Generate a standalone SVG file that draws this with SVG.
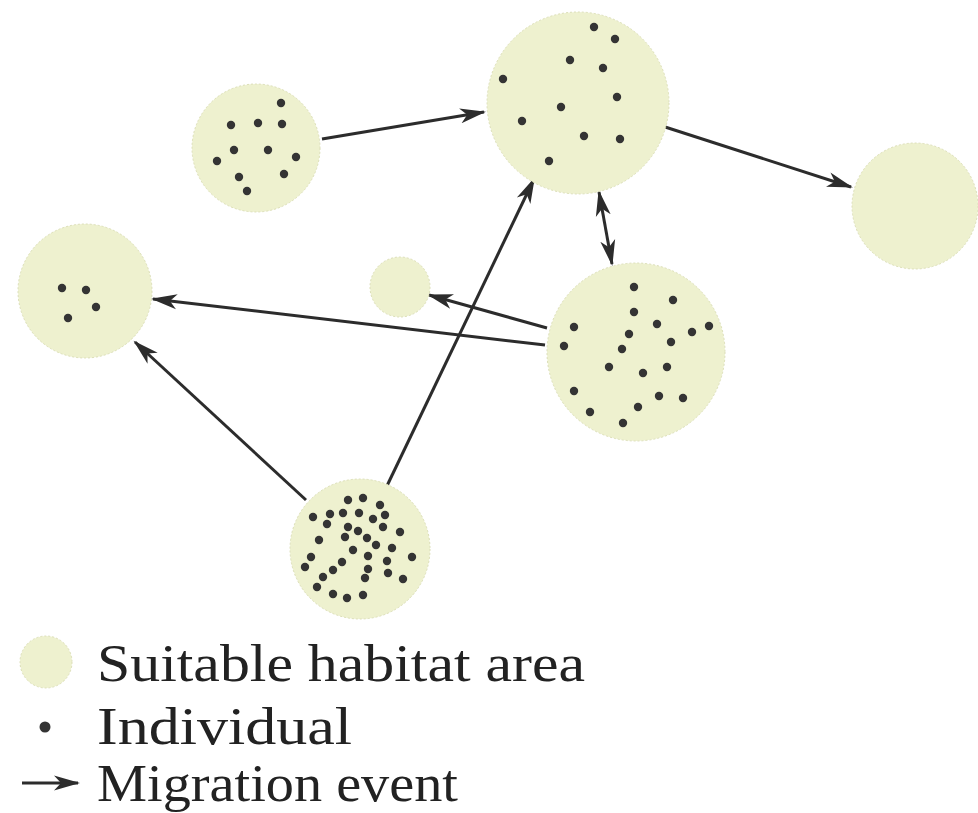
<svg xmlns="http://www.w3.org/2000/svg" width="978" height="813" viewBox="0 0 978 813">
<style>
.hab{fill:#eef1cf;stroke:#dcdfb8;stroke-width:1;stroke-dasharray:2 2}
.ind{fill:#343434}
.mig{fill:none;stroke:#2c2c2c;stroke-width:3;marker-end:url(#ah)}
.lbl{font-family:"Liberation Serif","Times New Roman",serif;font-size:53px;fill:#222}
</style>
<defs>
<marker id="ah" markerUnits="userSpaceOnUse" markerWidth="28" markerHeight="18" refX="24" refY="9" orient="auto-start-reverse" viewBox="0 0 28 18">
<path d="M0,1.5 L26,9 L0,16.5 L7,9 Z" fill="#2c2c2c"/>
</marker>
</defs>
<rect width="978" height="813" fill="#fff"/>
<g id="connectors">
<line class="mig" x1="322" y1="139" x2="484" y2="112"/>
<line class="mig" x1="662" y1="126" x2="851" y2="187"/>
<line class="mig" x1="599" y1="192" x2="612" y2="264" style="marker-start:url(#ah)"/>
<line class="mig" x1="547" y1="328" x2="429" y2="295"/>
<line class="mig" x1="545" y1="345" x2="153" y2="299"/>
<line class="mig" x1="306" y1="500" x2="135" y2="342"/>
<line class="mig" x1="385" y1="490" x2="534" y2="179"/>
</g>
<g id="patch-upper-left">
<circle class="hab" cx="256" cy="148" r="64"/>
<g class="ind"><circle cx="281" cy="103" r="4.2"/><circle cx="231" cy="125" r="4.2"/><circle cx="258" cy="123" r="4.2"/><circle cx="282" cy="124" r="4.2"/><circle cx="234" cy="150" r="4.2"/><circle cx="268" cy="150" r="4.2"/><circle cx="296" cy="157" r="4.2"/><circle cx="217" cy="161" r="4.2"/><circle cx="239" cy="177" r="4.2"/><circle cx="284" cy="174" r="4.2"/><circle cx="247" cy="191" r="4.2"/></g>
</g>
<g id="patch-top">
<circle class="hab" cx="578" cy="103" r="91"/>
<g class="ind"><circle cx="594" cy="27" r="4.2"/><circle cx="615" cy="39" r="4.2"/><circle cx="570" cy="60" r="4.2"/><circle cx="603" cy="68" r="4.2"/><circle cx="503" cy="79" r="4.2"/><circle cx="617" cy="97" r="4.2"/><circle cx="561" cy="107" r="4.2"/><circle cx="522" cy="121" r="4.2"/><circle cx="584" cy="136" r="4.2"/><circle cx="620" cy="139" r="4.2"/><circle cx="549" cy="161" r="4.2"/></g>
</g>
<g id="patch-right">
<circle class="hab" cx="915" cy="206" r="63"/>
</g>
<g id="patch-small">
<circle class="hab" cx="400" cy="287" r="30"/>
</g>
<g id="patch-left">
<circle class="hab" cx="85" cy="291" r="67"/>
<g class="ind"><circle cx="62" cy="288" r="4.2"/><circle cx="86" cy="290" r="4.2"/><circle cx="96" cy="307" r="4.2"/><circle cx="68" cy="318" r="4.2"/></g>
</g>
<g id="patch-middle-right">
<circle class="hab" cx="636" cy="352" r="89"/>
<g class="ind"><circle cx="634" cy="287" r="4.2"/><circle cx="673" cy="300" r="4.2"/><circle cx="634" cy="312" r="4.2"/><circle cx="574" cy="327" r="4.2"/><circle cx="657" cy="324" r="4.2"/><circle cx="692" cy="332" r="4.2"/><circle cx="709" cy="326" r="4.2"/><circle cx="629" cy="334" r="4.2"/><circle cx="671" cy="342" r="4.2"/><circle cx="564" cy="346" r="4.2"/><circle cx="622" cy="349" r="4.2"/><circle cx="609" cy="367" r="4.2"/><circle cx="643" cy="373" r="4.2"/><circle cx="667" cy="367" r="4.2"/><circle cx="574" cy="391" r="4.2"/><circle cx="659" cy="396" r="4.2"/><circle cx="683" cy="398" r="4.2"/><circle cx="638" cy="407" r="4.2"/><circle cx="590" cy="412" r="4.2"/><circle cx="623" cy="423" r="4.2"/></g>
</g>
<g id="patch-bottom">
<circle class="hab" cx="360" cy="549" r="70"/>
<g class="ind"><circle cx="348" cy="500" r="4.2"/><circle cx="363" cy="498" r="4.2"/><circle cx="380" cy="505" r="4.2"/><circle cx="313" cy="517" r="4.2"/><circle cx="330" cy="514" r="4.2"/><circle cx="343" cy="513" r="4.2"/><circle cx="359" cy="513" r="4.2"/><circle cx="373" cy="519" r="4.2"/><circle cx="385" cy="515" r="4.2"/><circle cx="327" cy="524" r="4.2"/><circle cx="348" cy="527" r="4.2"/><circle cx="358" cy="531" r="4.2"/><circle cx="383" cy="527" r="4.2"/><circle cx="400" cy="532" r="4.2"/><circle cx="319" cy="540" r="4.2"/><circle cx="345" cy="537" r="4.2"/><circle cx="367" cy="538" r="4.2"/><circle cx="376" cy="545" r="4.2"/><circle cx="392" cy="548" r="4.2"/><circle cx="353" cy="550" r="4.2"/><circle cx="311" cy="557" r="4.2"/><circle cx="368" cy="556" r="4.2"/><circle cx="412" cy="557" r="4.2"/><circle cx="342" cy="562" r="4.2"/><circle cx="387" cy="561" r="4.2"/><circle cx="305" cy="567" r="4.2"/><circle cx="333" cy="570" r="4.2"/><circle cx="368" cy="569" r="4.2"/><circle cx="388" cy="573" r="4.2"/><circle cx="323" cy="577" r="4.2"/><circle cx="365" cy="578" r="4.2"/><circle cx="403" cy="579" r="4.2"/><circle cx="317" cy="587" r="4.2"/><circle cx="333" cy="594" r="4.2"/><circle cx="347" cy="598" r="4.2"/><circle cx="363" cy="595" r="4.2"/></g>
</g>
<g id="legend">
<circle class="hab" cx="46" cy="662" r="26"/>
<text class="lbl" x="97" y="681" textLength="488" lengthAdjust="spacingAndGlyphs">Suitable habitat area</text>
<circle class="ind" cx="45" cy="727" r="5.5"/>
<text class="lbl" x="97" y="744" textLength="255" lengthAdjust="spacingAndGlyphs">Individual</text>
<line class="mig" x1="22" y1="783" x2="78" y2="783"/>
<text class="lbl" x="97" y="801" textLength="361" lengthAdjust="spacingAndGlyphs">Migration event</text>
</g>
</svg>
